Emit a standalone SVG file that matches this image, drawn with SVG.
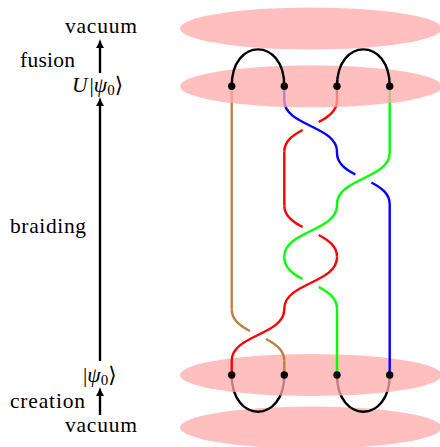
<svg xmlns="http://www.w3.org/2000/svg" width="440" height="447" viewBox="0 0 440 447">
  <style>
    .plane { fill: #ffaaaa; fill-opacity: 0.75; stroke: none; }
    .arc { fill: none; stroke: #000; stroke-width: 2.4; }
    .s { fill: none; stroke-width: 2.4; stroke-linecap: butt; }
    .under { stroke-dasharray: 38.5 23 38.5; }
    .brown { stroke: #bf8040; }
    .red { stroke: #ff0000; }
    .green { stroke: #00ff00; }
    .blue { stroke: #0000ff; }
    .dot { fill: #000; }
    .t { font-family: "Liberation Serif", "DejaVu Serif", serif; font-size: 21.5px; fill: #000; }
    .ax { stroke: #000; stroke-width: 2.4; fill: none; marker-end: url(#ah); }
  </style>
  <defs>
    <marker id="ah" markerUnits="userSpaceOnUse" markerWidth="10" markerHeight="10" refX="0" refY="0" viewBox="0 -5 10 10" orient="auto" overflow="visible">
      <path d="M0,-4 Q3,-1.7 9,0 Q3,1.7 0,4 z" fill="#000"/>
    </marker>
  </defs>

  <!-- lowest plane: vacuum -->
  <g id="plane-vacuum-bottom"><ellipse class="plane" cx="311" cy="427.5" rx="131" ry="21"/></g>

  <!-- creation arcs -->
  <g id="creation-arcs">
    <path class="arc" d="M231.7,375 C231.7,424 284.3,424 284.3,375"/>
    <path class="arc" d="M337,375 C337,424 389.7,424 389.7,375"/>
  </g>

  <!-- plane psi0 -->
  <g id="plane-psi0"><ellipse class="plane" cx="311" cy="375" rx="131" ry="21"/></g>

  <!-- braid strands -->
  <g id="connectors">
    <g id="strand-brown">
      <path class="s brown" d="M231.7,86.3 V309.5"/>
      <path class="s brown under" pathLength="100" d="M231.7,309.5 C231.7,335 284.3,335 284.3,360.5"/>
      <path class="s brown" d="M284.3,360.5 V375"/>
    </g>
    <g id="strand-blue">
      <path class="s blue" d="M284.3,86.3 V100.5 C284.3,126 337,126 337,151.5 V153"/>
      <path class="s blue under" pathLength="100" d="M337,153 C337,178.5 389.7,178.5 389.7,204"/>
      <path class="s blue" d="M389.7,204 V375"/>
    </g>
    <g id="strand-red">
      <path class="s red" d="M337,86.3 V100.5"/>
      <path class="s red under" pathLength="100" d="M337,100.5 C337,126 284.3,126 284.3,151.5"/>
      <path class="s red" d="M284.3,151.5 V205.5"/>
      <path class="s red under" pathLength="100" d="M284.3,205.5 C284.3,231 337,231 337,256.5"/>
      <path class="s red" d="M337,256.5 V257.5 C337,283 284.3,283 284.3,308.5 V309.5 C284.3,335 231.7,335 231.7,360.5 V375"/>
    </g>
    <g id="strand-green">
      <path class="s green" d="M389.7,86.3 V153 C389.7,178.5 337,178.5 337,204 V205.5 C337,231 284.3,231 284.3,256.5 V257.5"/>
      <path class="s green under" pathLength="100" d="M284.3,257.5 C284.3,283 337,283 337,308.5"/>
      <path class="s green" d="M337,308.5 V375"/>
    </g>
  </g>

  <!-- plane U psi0 -->
  <g id="plane-Upsi0"><ellipse class="plane" cx="311" cy="86.3" rx="131" ry="21"/></g>
  <!-- top plane: vacuum -->
  <g id="plane-vacuum-top"><ellipse class="plane" cx="311" cy="28.5" rx="131" ry="21"/></g>

  <!-- fusion arcs -->
  <g id="fusion-arcs">
    <path class="arc" d="M231.7,86.3 C231.7,37 284.3,37 284.3,86.3"/>
    <path class="arc" d="M337,86.3 C337,37 389.7,37 389.7,86.3"/>
  </g>

  <!-- anyon dots -->
  <g id="anyons">
    <circle class="dot" cx="231.7" cy="86.3" r="3.7"/>
    <circle class="dot" cx="284.3" cy="86.3" r="3.7"/>
    <circle class="dot" cx="337" cy="86.3" r="3.7"/>
    <circle class="dot" cx="389.7" cy="86.3" r="3.7"/>
    <circle class="dot" cx="231.7" cy="375" r="3.7"/>
    <circle class="dot" cx="284.3" cy="375" r="3.7"/>
    <circle class="dot" cx="337" cy="375" r="3.7"/>
    <circle class="dot" cx="389.7" cy="375" r="3.7"/>
  </g>

  <!-- left axis -->
  <g id="axis">
    <line class="ax" x1="100" y1="73" x2="100" y2="48"/>
    <line class="ax" x1="100" y1="361" x2="100" y2="106"/>
    <line class="ax" x1="100" y1="415" x2="100" y2="396"/>
  </g>

  <g id="label-vacuum-top"><text class="t" x="65" y="33" textLength="72" lengthAdjust="spacing">vacuum</text></g>
  <g id="label-fusion"><text class="t" x="20" y="67" textLength="55" lengthAdjust="spacing">fusion</text></g>
  <g id="label-Upsi0"><text class="t" x="72" y="92"><tspan font-style="italic">U</tspan><tspan dx="2">|</tspan><tspan font-style="italic">ψ</tspan><tspan font-size="15" dy="3">0</tspan><tspan dy="-3">⟩</tspan></text></g>
  <g id="label-braiding"><text class="t" x="10" y="233" textLength="76" lengthAdjust="spacing">braiding</text></g>
  <g id="label-psi0"><text class="t" x="83" y="382"><tspan>|</tspan><tspan font-style="italic">ψ</tspan><tspan font-size="15" dy="3">0</tspan><tspan dy="-3">⟩</tspan></text></g>
  <g id="label-creation"><text class="t" x="10" y="408" textLength="75" lengthAdjust="spacing">creation</text></g>
  <g id="label-vacuum-bottom"><text class="t" x="65" y="432" textLength="72" lengthAdjust="spacing">vacuum</text></g>
</svg>
